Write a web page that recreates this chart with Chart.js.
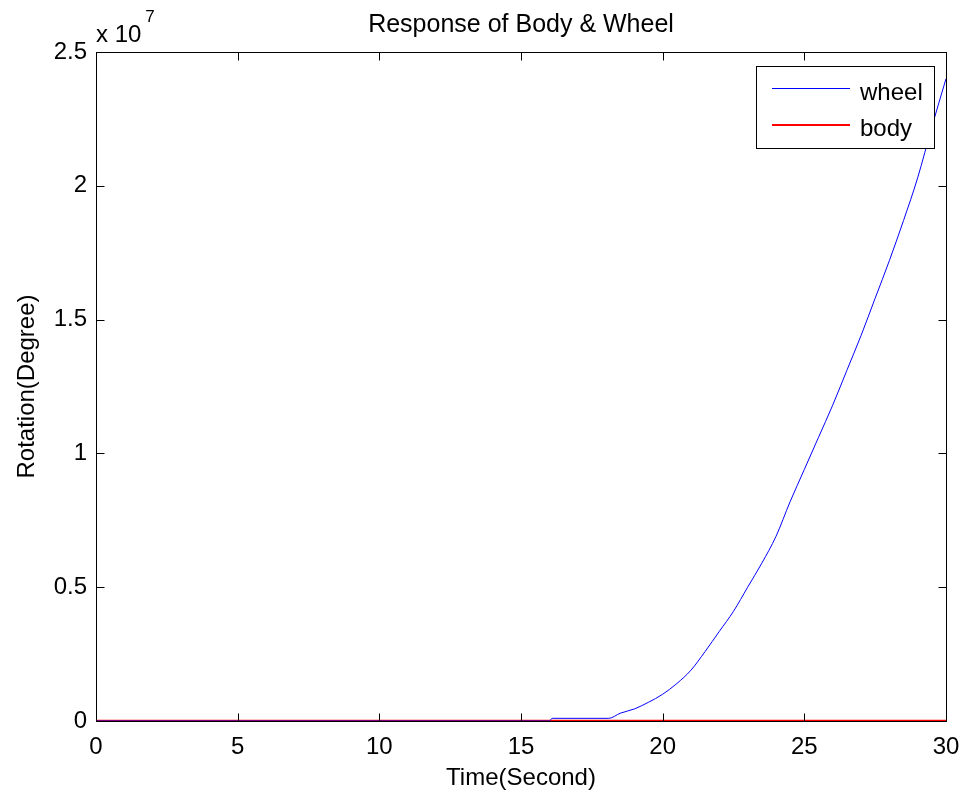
<!DOCTYPE html>
<html><head><meta charset="utf-8">
<script src="https://cdn.jsdelivr.net/npm/chart.js@4/dist/chart.umd.min.js"></script>
<style>html,body{margin:0;padding:0;background:#fff;} canvas{display:block;}</style>
</head><body>
<canvas id="c" width="965" height="799"></canvas>
<script>
// ---- data ----
const wheelTimes   = [0, 16.0, 16.1, 18.1, 18.5, 19.0, 19.5, 20.0, 20.5, 21.0, 21.5, 22.0, 22.5, 23.0, 23.5, 24.0, 24.5, 25.0, 25.5, 26.0, 26.5, 27.0, 27.5, 28.0, 28.5, 29.0, 29.5, 30.0];
const wheelDegrees = [0, 0, 1.0e5, 1.0e5, 2.9e5, 4.5e5, 7.0e5, 1.0e6, 1.4e6, 1.9e6, 2.6e6, 3.35e6, 4.1e6, 5.0e6, 5.9e6, 6.9e6, 8.2e6, 9.4e6, 1.06e7, 1.18e7, 1.31e7, 1.44e7, 1.58e7, 1.72e7, 1.87e7, 2.03e7, 2.22e7, 2.40e7];
const bodyTimes    = [0, 30];
const bodyDegrees  = [0, 0];
const xTickValues  = [0, 5, 10, 15, 20, 25, 30];
const yTickValues  = [0, 5e6, 1e7, 1.5e7, 2e7, 2.5e7];
const seriesNames  = ['wheel', 'body'];
const seriesColors = ['#0000ff', '#ff0000'];
const titleText    = 'Response of Body & Wheel';

const FONT = '"Liberation Sans", Arial, sans-serif';
const toXY = (xs, ys) => xs.map((x, i) => ({x, y: ys[i]}));

const frame = {
  id: 'frame',
  afterDatasetsDraw(chart) {
    const {ctx, chartArea: a, scales: {x, y}} = chart;
    ctx.save();
    ctx.strokeStyle = '#000';
    ctx.lineWidth = 1;
    const L = Math.round(a.left) + 0.5, R = Math.round(a.right) + 0.5;
    const T = Math.round(a.top) + 0.5, B = Math.round(a.bottom) + 0.5;
    ctx.strokeRect(L, T, R - L, B - T);
    const tl = 8;
    ctx.beginPath();
    xTickValues.forEach(v => {
      const px = Math.round(x.getPixelForValue(v)) + 0.5;
      ctx.moveTo(px, B); ctx.lineTo(px, B - tl);
      ctx.moveTo(px, T); ctx.lineTo(px, T + tl);
    });
    yTickValues.forEach(v => {
      const py = Math.round(y.getPixelForValue(v)) + 0.5;
      ctx.moveTo(L, py); ctx.lineTo(L + tl, py);
      ctx.moveTo(R, py); ctx.lineTo(R - tl, py);
    });
    ctx.stroke();
    ctx.restore();
  },
  afterDraw(chart) {
    const {ctx, chartArea: a} = chart;
    ctx.save();
    ctx.fillStyle = '#000';
    // title centred over the plot area
    ctx.font = '25px ' + FONT;
    ctx.textAlign = 'center';
    ctx.textBaseline = 'middle';
    ctx.fillText(titleText, (a.left + a.right) / 2, 25);
    // exponent label
    ctx.textBaseline = 'alphabetic';
    ctx.textAlign = 'left';
    ctx.font = '24px ' + FONT;
    ctx.fillText('x 10', a.left, 42);
    const w = ctx.measureText('x 10').width;
    ctx.font = '17px ' + FONT;
    ctx.fillText('7', a.left + w + 4, 22);
    // legend
    const bx = 756, by = 66, bw = 178, bh = 82;
    ctx.fillStyle = '#fff';
    ctx.fillRect(bx, by, bw, bh);
    ctx.strokeStyle = '#000';
    ctx.lineWidth = 1;
    ctx.strokeRect(bx + 0.5, by + 0.5, bw, bh);
    const rows = [88.5, 125];
    const widths = [1, 2];
    seriesNames.forEach((name, i) => {
      ctx.strokeStyle = seriesColors[i];
      ctx.lineWidth = widths[i];
      ctx.beginPath();
      ctx.moveTo(772, rows[i]);
      ctx.lineTo(850, rows[i]);
      ctx.stroke();
      ctx.fillStyle = '#000';
      ctx.font = '24px ' + FONT;
      ctx.textBaseline = 'alphabetic';
      ctx.fillText(name, 860, Math.round(rows[i]) + 11);
    });
    ctx.restore();
  }
};

new Chart(document.getElementById('c'), {
  type: 'line',
  data: {
    datasets: [
      {label: seriesNames[0], data: toXY(wheelTimes, wheelDegrees), borderColor: seriesColors[0], borderWidth: 1, pointRadius: 0, cubicInterpolationMode: 'monotone', fill: false},
      {label: seriesNames[1], data: toXY(bodyTimes, bodyDegrees), borderColor: seriesColors[1], borderWidth: 2.5, pointRadius: 0, tension: 0, fill: false}
    ]
  },
  options: {
    responsive: false,
    animation: false,
    events: [],
    layout: {padding: {left: 0, right: 19, top: 52, bottom: 0}},
    plugins: {
      legend: {display: false},
      tooltip: {enabled: false},
      title: {display: false}
    },
    scales: {
      x: {
        type: 'linear', min: 0, max: 30,
        afterBuildTicks: s => { s.ticks = xTickValues.map(v => ({value: v})); },
        afterFit: s => { s.height = 78; s.paddingLeft = 0; s.paddingRight = 0; },
        grid: {display: false, drawTicks: false},
        border: {display: false},
        ticks: {color: '#000', font: {family: FONT, size: 24}, padding: 12, maxRotation: 0, autoSkip: false},
        title: {display: true, text: 'Time(Second)', color: '#000', font: {family: FONT, size: 24, lineHeight: 1.2}, padding: {top: 6, bottom: 6}}
      },
      y: {
        type: 'linear', min: 0, max: 2.5e7,
        afterBuildTicks: s => { s.ticks = yTickValues.map(v => ({value: v})); },
        afterFit: s => { s.width = 96; s.paddingTop = 0; s.paddingBottom = 0; },
        grid: {display: false, drawTicks: false},
        border: {display: false},
        ticks: {color: '#000', font: {family: FONT, size: 24}, padding: 9, callback: v => String(v / 1e7)},
        title: {display: true, text: 'Rotation(Degree)', color: '#000', font: {family: FONT, size: 24, lineHeight: 1.2}, padding: {top: 13, bottom: 0}}
      }
    }
  },
  plugins: [frame]
});
</script>
</body></html>
